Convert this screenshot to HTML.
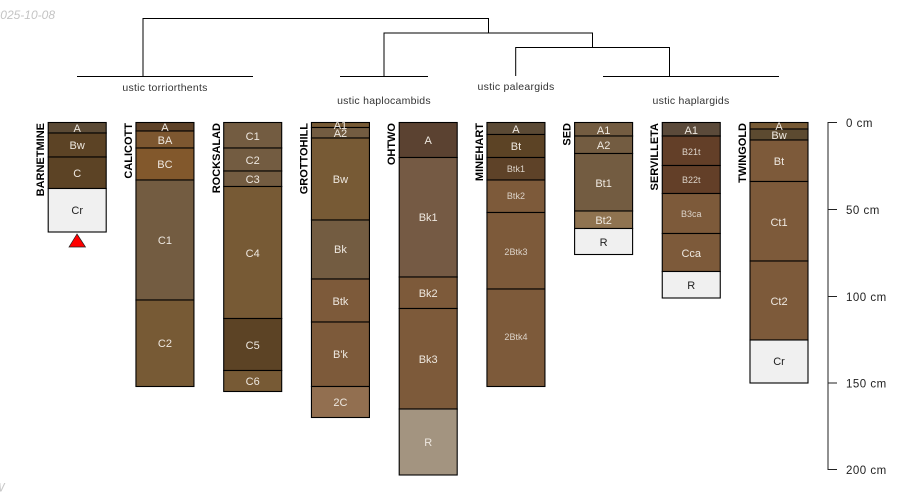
<!DOCTYPE html>
<html><head><meta charset="utf-8"><style>
html,body{margin:0;padding:0;background:#fff;width:900px;height:500px;overflow:hidden}
svg{display:block;font-family:"Liberation Sans",sans-serif}
.h rect{stroke:#000;stroke-width:1.1}
.h text{font-size:11px;fill:#eee8e0;text-anchor:middle}
.h text.s{font-size:9px;fill:#dcd3c9}
.h text.d{fill:#222}
.n{font-size:11px;font-weight:bold;fill:#000;text-anchor:end}
.g{font-size:10.5px;fill:#333;text-anchor:middle;letter-spacing:.25px}
.a{font-size:11.5px;fill:#222;letter-spacing:.5px}
.l{stroke:#000;stroke-width:1;fill:none}
</style></head><body>
<svg width="900" height="500" viewBox="0 0 900 500" xmlns="http://www.w3.org/2000/svg">
<text x="55" y="19" text-anchor="end" font-size="12" font-style="italic" fill="#c4c4c4">2025-10-08</text>
<text x="4.500" y="491.500" text-anchor="end" font-size="12" font-style="italic" fill="#c8c8c8">W</text>

<path class="l" d="M143 76V18.5H488.5V33M384 76V33H592.5V47.5M515.700 76V47.5H669.5V76M77 76.500H253M340 76.500H428M603 76.500H779"/>
<text class="g" x="165" y="91">ustic torriorthents</text>
<text class="g" x="384" y="104">ustic haplocambids</text>
<text class="g" x="516" y="90">ustic paleargids</text>
<text class="g" x="691" y="104">ustic haplargids</text>

<g class="h" transform="translate(48.200,0)">
<rect y="122.500" width="58" height="10.500" fill="#5b4a35"/><rect y="133" width="58" height="24" fill="#5c4325"/><rect y="157" width="58" height="31.500" fill="#5c4325"/><rect y="188.500" width="58" height="43.500" fill="#f0f0f0"/>
<text x="29" y="132">A</text><text x="29" y="149">Bw</text><text x="29" y="177">C</text><text class="d" x="29" y="214">Cr</text>
</g>
<polygon points="77,234 85.500,247 69,247" fill="#f00" stroke="#222" stroke-width=".7"/>

<g class="h" transform="translate(135.950,0)">
<rect y="122.500" width="58" height="8.500" fill="#5e4228"/><rect y="131" width="58" height="17" fill="#7d5730"/><rect y="148" width="58" height="32" fill="#82582c"/><rect y="180" width="58" height="120" fill="#735c41"/><rect y="300" width="58" height="86.500" fill="#775a35"/>
<text x="29" y="131">A</text><text x="29" y="144">BA</text><text x="29" y="168">BC</text><text x="29" y="244">C1</text><text x="29" y="347">C2</text>
</g>

<g class="h" transform="translate(223.700,0)">
<rect y="122.500" width="58" height="25.500" fill="#735c41"/><rect y="148" width="58" height="23" fill="#735c41"/><rect y="171" width="58" height="15.500" fill="#735c41"/><rect y="186.500" width="58" height="132" fill="#775a35"/><rect y="318.500" width="58" height="52" fill="#5c4325"/><rect y="370.500" width="58" height="21" fill="#775a35"/>
<text x="29" y="140">C1</text><text x="29" y="164">C2</text><text x="29" y="183">C3</text><text x="29" y="257">C4</text><text x="29" y="349">C5</text><text x="29" y="385">C6</text>
</g>

<g class="h" transform="translate(311.450,0)">
<rect y="122.500" width="58" height="5" fill="#775a35"/><rect y="127.500" width="58" height="10.500" fill="#735c41"/><rect y="138" width="58" height="82" fill="#775a35"/><rect y="220" width="58" height="59" fill="#735c41"/><rect y="279" width="58" height="43" fill="#7d5a3a"/><rect y="322" width="58" height="64.500" fill="#7d5a3a"/><rect y="386.500" width="58" height="31" fill="#926f50"/>
<text x="29" y="129">A1</text><text x="29" y="137">A2</text><text x="29" y="183">Bw</text><text x="29" y="253">Bk</text><text x="29" y="305">Btk</text><text x="29" y="358">B'k</text><text x="29" y="406">2C</text>
</g>

<g class="h" transform="translate(399.200,0)">
<rect y="122.500" width="58" height="35" fill="#5b4231"/><rect y="157.500" width="58" height="119.500" fill="#755a44"/><rect y="277" width="58" height="31.500" fill="#7d5a3a"/><rect y="308.500" width="58" height="100.500" fill="#7d5a3a"/><rect y="409" width="58" height="66" fill="#a39480"/>
<text x="29" y="144">A</text><text x="29" y="221">Bk1</text><text x="29" y="297">Bk2</text><text x="29" y="363">Bk3</text><text x="29" y="446">R</text>
</g>

<g class="h" transform="translate(486.950,0)">
<rect y="122.500" width="58" height="12" fill="#5b4a35"/><rect y="134.500" width="58" height="23" fill="#5c4325"/><rect y="157.500" width="58" height="22.500" fill="#5e4228"/><rect y="180" width="58" height="32.500" fill="#7d5a3a"/><rect y="212.500" width="58" height="76.500" fill="#7d5a3a"/><rect y="289" width="58" height="97.500" fill="#7d5a3a"/>
<text x="29" y="133">A</text><text x="29" y="150">Bt</text><text class="s" x="29" y="172">Btk1</text><text class="s" x="29" y="199">Btk2</text><text class="s" x="29" y="255">2Btk3</text><text class="s" x="29" y="340">2Btk4</text>
</g>

<g class="h" transform="translate(574.600,0)">
<rect y="122.500" width="58" height="13.500" fill="#735c41"/><rect y="136" width="58" height="17.500" fill="#735c41"/><rect y="153.500" width="58" height="57.500" fill="#735c41"/><rect y="211" width="58" height="17.500" fill="#8f7350"/><rect y="228.500" width="58" height="26" fill="#f0f0f0"/>
<text x="29" y="134">A1</text><text x="29" y="149">A2</text><text x="29" y="187">Bt1</text><text x="29" y="224">Bt2</text><text class="d" x="29" y="246">R</text>
</g>

<g class="h" transform="translate(662.250,0)">
<rect y="122.500" width="58" height="13.500" fill="#5b4a3a"/><rect y="136" width="58" height="29.500" fill="#633f28"/><rect y="165.500" width="58" height="28" fill="#633f28"/><rect y="193.500" width="58" height="40" fill="#7d5a3a"/><rect y="233.500" width="58" height="38" fill="#7d5a3a"/><rect y="271.500" width="58" height="26.500" fill="#f0f0f0"/>
<text x="29" y="134">A1</text><text class="s" x="29" y="155">B21t</text><text class="s" x="29" y="183">B22t</text><text class="s" x="29" y="217">B3ca</text><text x="29" y="257">Cca</text><text class="d" x="29" y="289">R</text>
</g>

<g class="h" transform="translate(750,0)">
<rect y="122.500" width="58" height="6.500" fill="#775a35"/><rect y="129" width="58" height="11" fill="#5c4a30"/><rect y="140" width="58" height="41.500" fill="#7d5a3a"/><rect y="181.500" width="58" height="79.500" fill="#7d5a3a"/><rect y="261" width="58" height="79" fill="#7d5a3a"/><rect y="340" width="58" height="43" fill="#f0f0f0"/>
<text x="29" y="130">A</text><text x="29" y="139">Bw</text><text x="29" y="165">Bt</text><text x="29" y="226">Ct1</text><text x="29" y="305">Ct2</text><text class="d" x="29" y="365">Cr</text>
</g>

<text class="n" transform="translate(44,123) rotate(-90)">BARNETMINE</text>
<text class="n" transform="translate(132,123) rotate(-90)">CALICOTT</text>
<text class="n" transform="translate(220,123) rotate(-90)">ROCKSALAD</text>
<text class="n" transform="translate(307.500,123) rotate(-90)">GROTTOHILL</text>
<text class="n" transform="translate(395,123) rotate(-90)">OHTWO</text>
<text class="n" transform="translate(483,123) rotate(-90)">MINEHART</text>
<text class="n" transform="translate(570.500,123) rotate(-90)">SED</text>
<text class="n" transform="translate(658,123) rotate(-90)">SERVILLETA</text>
<text class="n" transform="translate(746,123) rotate(-90)">TWINGOLD</text>

<path d="M837 122.500H828V469.500H837M828 209.500H837M828 296.500H837M828 383H837" fill="none" stroke="#222" stroke-width="1"/>
<text class="a" x="846" y="127">0 cm</text>
<text class="a" x="846" y="214">50 cm</text>
<text class="a" x="846" y="301">100 cm</text>
<text class="a" x="846" y="387.500">150 cm</text>
<text class="a" x="846" y="474">200 cm</text>
</svg>
</body></html>
